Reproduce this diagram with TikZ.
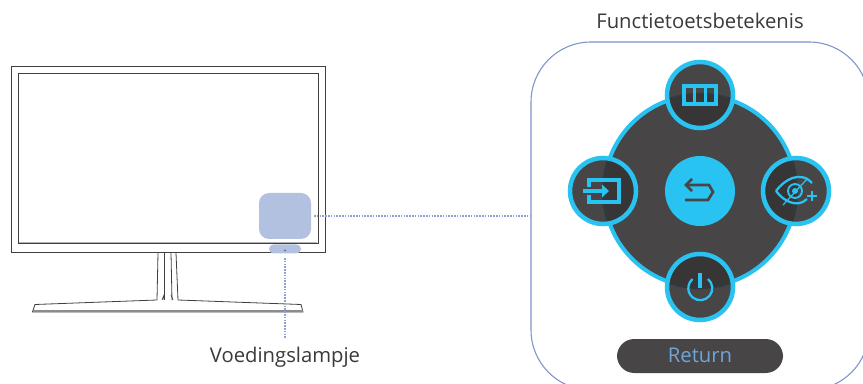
\documentclass[tikz,border=0pt]{standalone}
\usepackage{fontspec}
\setmainfont{Open Sans}
\definecolor{cy}{HTML}{29C3F2}
\definecolor{dk}{HTML}{474546}
\definecolor{dkb}{HTML}{383536}
\definecolor{edgeshade}{HTML}{2F3A40}
\definecolor{pale}{HTML}{B3C1E0}
\definecolor{pan}{HTML}{7F93CC}
\definecolor{dotc}{HTML}{8CA2D6}
\definecolor{txt}{HTML}{3A3A3A}
\definecolor{ret}{HTML}{6FA6D8}
\tikzset{
 mon/.style={draw=black!75,line width=0.6pt},
 leader/.style={draw=dotc,line width=0.8pt,dash pattern=on 1.2pt off 0.9pt},
 ring/.style={circle,draw=cy,line width=3.4pt,minimum size=49.5pt,inner sep=0pt},
 ico/.style={draw=cy,line width=2.3pt},
 lab/.style={font=\fontsize{15.2pt}{17pt}\selectfont,text=txt,inner sep=0pt}
}
\begin{document}
\begin{tikzpicture}[x=0.75pt,y=-0.75pt]
\useasboundingbox (0,0) rectangle (863,384);
\fill[white] (0,0) rectangle (863,384);
% panel
\begin{scope}
\clip (0,0) rectangle (863,384);
\draw[draw=pan,line width=0.8pt,rounded corners=45pt] (531,42) rectangle (869,390);
\end{scope}
% monitor
\draw[mon] (11,66) rectangle (325,252.5);
\draw[mon] (18,73) rectangle (318,243);
\draw[draw=black!30,line width=0.6pt] (19,242) -- (317,242);
\draw[mon] (158,253) -- (157,300) (176,253) -- (178,300) (164.5,253) -- (164.5,300) (171,253) -- (172,300);
\draw[mon] (157,300) -- (35,304.5) -- (32.5,312) -- (303,312) -- (301,304.5) -- (178,300);
\draw[draw=black!45,line width=0.9pt] (33,311) -- (303,311);
\draw[mon,line width=0.5pt] (162,300) -- (164,295) -- (164,300) (171,295) -- (173,300);
% highlights
\node[fill=pale,rounded corners=7.5pt,minimum width=39pt,minimum height=34.5pt,inner sep=0pt] (hl) at (285,216) {};
\node[fill=pale,rounded corners=3.4pt,minimum width=24pt,minimum height=6.75pt,inner sep=0pt] (led) at (285,249) {};
\fill[black!60] (285,250.5) circle (1);
\coordinate (ledb) at (285,258);
\coordinate (panl) at (530,216);
\coordinate (hlr) at (314,216);
\coordinate (vlt) at (285,338);
\node[lab,anchor=base] (vl) at (285,363) {Voedingslampje};
\node[lab,anchor=base] (ft) at (700,29) {Functietoetsbetekenis};
\draw[leader] (ledb) -- (vlt);
\draw[leader] (hlr) -- (panl);
% dial
\node[circle,fill=dk,draw=cy,line width=3pt,minimum size=144pt,inner sep=0pt] (dial) at (700,191) {};
\foreach \n/\x/\y in {t/700/95,l/603/191,r/796/191,b/700/287}{
  \node[circle,fill=dk,minimum size=49.5pt,inner sep=0pt] (c\n) at (\x,\y) {};
  \begin{scope}
  \clip (\x,\y) circle (33);
  \fill[dkb] (700,191) circle (97);
  \draw[edgeshade,line width=1.6pt] (700,191) circle (97);
  \end{scope}
  \node[ring] (k\n) at (\x,\y) {};
}
\node[circle,fill=cy,minimum size=52.5pt,inner sep=0pt] (cc) at (700,191) {};
% menu icon
\draw[ico] (684,86) rectangle (716,104);
\draw[ico] (694.3,86) -- (694.3,104) (705.7,86) -- (705.7,104);
% source icon
\draw[ico] (589,187) -- (589,180) -- (619,180) -- (619,202) -- (589,202) -- (589,195);
\draw[ico] (583,191) -- (603,191);
\fill[cy] (602,184.5) -- (609,191) -- (602,197.5) -- cycle;
% eye icon
\draw[ico,line width=1.7pt] (776,191) .. controls (784,180) and (800,170) .. (812,183);
\draw[ico,line width=1.7pt] (776,191) .. controls (784,202) and (798,208) .. (807,199);
\draw[ico,line width=1.4pt] (795,191) circle (7);
\fill[cy] (795,191) circle (3);
\draw[cy,line width=0.9pt] (783,205) -- (808,178);
\draw[ico,line width=1.5pt] (807,196) -- (817,196) (812,191) -- (812,201);
% power icon
\draw[ico,line width=1.7pt] (708,279) arc[start angle=-50,end angle=230,radius=12];
\draw[cy,line width=3pt] (700,273) -- (700,288);
% return icon
\begin{scope}[line width=2pt]
\draw[draw=dk] (692,179) -- (686,185) -- (692,191);
\draw[draw=dk] (686,185) -- (709,185) -- (713,192) -- (708,200) -- (685,200);
\end{scope}
% return button
\node[fill=dk,rounded corners=13pt,minimum width=124.5pt,minimum height=25.5pt,inner sep=0pt] (rb) at (700,356) {};
\node[lab,text=ret,anchor=base] (rt) at (700,363) {Return};
\end{tikzpicture}
\end{document}
